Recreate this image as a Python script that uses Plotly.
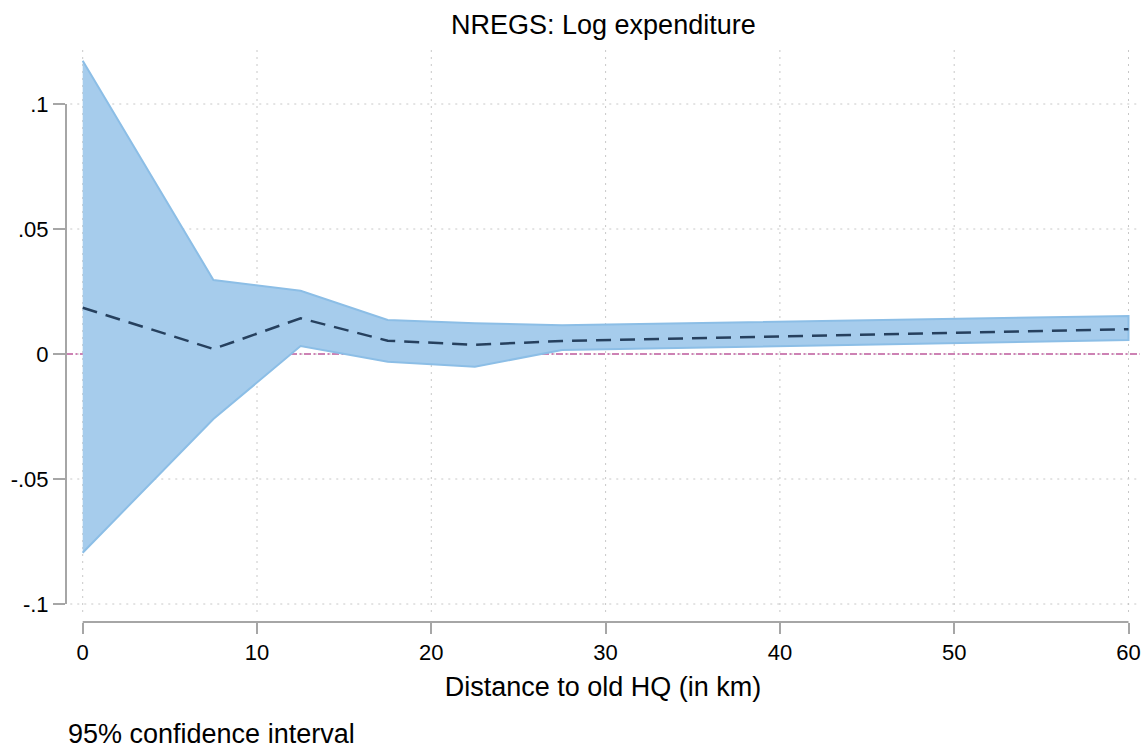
import plotly.graph_objects as go

# Binned estimates of the effect on log NREGS expenditure by distance to old HQ
distance_km = [0, 7.5, 12.5, 17.5, 22.5, 27.5, 60]
estimate = [0.0185, 0.0020, 0.0143, 0.0053, 0.0037, 0.0052, 0.0099]
ci_upper = [0.1173, 0.0296, 0.0253, 0.0136, 0.0123, 0.0115, 0.0152]
ci_lower = [-0.0795, -0.0260, 0.0032, -0.0031, -0.0051, 0.0016, 0.0056]

x_ticks = [0, 10, 20, 30, 40, 50, 60]
y_ticks = [-0.1, -0.05, 0, 0.05, 0.1]
y_tick_text = ["-.1", "-.05", "0", ".05", ".1"]

FONT = "Liberation Sans, Arial, Helvetica, sans-serif"
AXIS_GRAY = "#a6a6a6"
GRID_GRAY = "#c8c8c8"

fig = go.Figure()

# confidence band
fig.add_trace(go.Scatter(
    x=distance_km + distance_km[::-1],
    y=ci_upper + ci_lower[::-1],
    fill="toself",
    fillcolor="rgb(166,204,236)",
    line=dict(color="rgb(140,190,230)", width=2),
    mode="lines",
    hoverinfo="skip",
    showlegend=False,
))

# point estimates
fig.add_trace(go.Scatter(
    x=distance_km, y=estimate,
    mode="lines",
    line=dict(color="#26405e", width=2.5, dash="15px,9px"),
    showlegend=False,
))

shapes = []
# dotted grid
for xv in x_ticks:
    shapes.append(dict(type="line", xref="x", yref="paper", x0=xv, x1=xv,
                       y0=0.0174, y1=1, layer="below",
                       line=dict(color=GRID_GRAY, width=1, dash="2px,5px")))
for yv in y_ticks:
    shapes.append(dict(type="line", xref="paper", yref="y", x0=0.004, x1=1,
                       y0=yv, y1=yv, layer="below",
                       line=dict(color=GRID_GRAY, width=1, dash="2px,5px")))
# zero reference line
shapes.append(dict(type="line", xref="paper", yref="y", x0=0, x1=1, y0=0, y1=0,
                   layer="below",
                   line=dict(color="rgb(205,130,180)", width=2,
                             dash="7px,2.5px,2px,2.5px")))
# axis lines spanning the tick range
shapes.append(dict(type="line", xref="paper", yref="y", x0=0, x1=0,
                   y0=-0.1, y1=0.1, line=dict(color=AXIS_GRAY, width=2)))
shapes.append(dict(type="line", xref="x", yref="paper", x0=0, x1=60,
                   y0=0, y1=0, line=dict(color=AXIS_GRAY, width=2)))

fig.update_layout(
    width=1146, height=750,
    margin=dict(l=66, r=6, t=48, b=128),
    paper_bgcolor="white", plot_bgcolor="white",
    font=dict(family=FONT, color="black"),
    showlegend=False,
    shapes=shapes,
    title=dict(text="NREGS: Log expenditure", x=0.5265, xanchor="center",
               y=1 - 25 / 750, yanchor="middle",
               font=dict(size=27, family=FONT)),
    xaxis=dict(
        range=[-0.958, 60.66], showgrid=False, zeroline=False, showline=False,
        tickmode="array", tickvals=x_ticks, ticks="outside", ticklen=11,
        tickwidth=2, tickcolor=AXIS_GRAY, tickfont=dict(size=22),
        title=dict(text="Distance to old HQ (in km)", font=dict(size=27),
                   standoff=12),
    ),
    yaxis=dict(
        range=[-0.1072, 0.1224], showgrid=False, zeroline=False, showline=False,
        tickmode="array", tickvals=y_ticks, ticktext=y_tick_text,
        ticks="outside", ticklen=12, tickwidth=2, tickcolor=AXIS_GRAY,
        tickfont=dict(size=22),
    ),
    annotations=[dict(
        text="95% confidence interval", xref="paper", yref="paper",
        x=(66 - 66) / 1074, y=-(734 - 622) / 574, xanchor="left",
        yanchor="middle", showarrow=False, font=dict(size=27, family=FONT),
    )],
)

fig.write_html("out.html")
